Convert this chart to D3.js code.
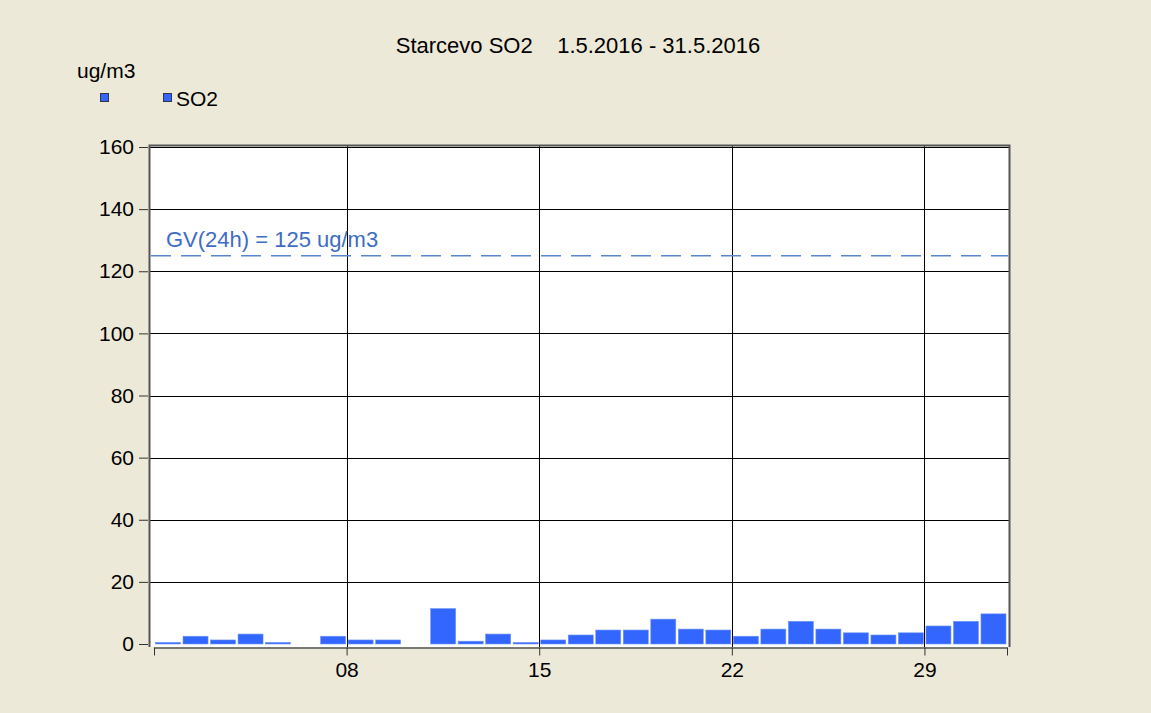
<!DOCTYPE html>
<html>
<head>
<meta charset="utf-8">
<script src="https://cdn.jsdelivr.net/npm/d3@7"></script>
<style>
  body { margin: 0; background: #ECE9D8; }
  svg text { font-family: "Liberation Sans", Arial, sans-serif; }
</style>
</head>
<body>
<div id="chart"></div>
<script>
// daily SO2 means, May 2016 (null = no data)
var days = d3.range(1, 32);
var so2 = [0.5, 2.5, 1.3, 3.2, 0.5, null, 2.5, 1.3, 1.3, null,
           11.4, 0.9, 3.2, 0.5, 1.3, 2.9, 4.5, 4.5, 8.0, 4.8,
           4.5, 2.5, 4.8, 7.3, 4.8, 3.6, 2.9, 3.6, 5.8, 7.3, 9.7];
var yTicks = [0, 20, 40, 60, 80, 100, 120, 140, 160];
var xTickDays = [8, 15, 22, 29];
var xTickLabels = ["08", "15", "22", "29"];
var limitValue = 125;
var limitLabel = "GV(24h) = 125 ug/m3";
var title = "Starcevo SO2    1.5.2016 - 31.5.2016";

var W = 1151, H = 713;
var FS = 21;
var svg = d3.select("#chart").append("svg").attr("width", W).attr("height", H);

var x = d3.scaleLinear().domain([1, 32]).range([154, 1007]);
var y = d3.scaleLinear().domain([0, 160]).range([644, 147]);

// plot area
svg.append("rect").attr("x", 150).attr("y", 146).attr("width", 859).attr("height", 501)
  .attr("fill", "#fff");

// grid
svg.selectAll(".hgrid").data(yTicks.filter(function(d){ return d > 0; })).enter()
  .append("line").attr("class", "hgrid")
  .attr("x1", 150).attr("x2", 1009)
  .attr("y1", function(d){ return Math.round(y(d)) + 0.5; })
  .attr("y2", function(d){ return Math.round(y(d)) + 0.5; })
  .attr("stroke", "#000").attr("stroke-width", 1);
svg.selectAll(".vgrid").data(xTickDays).enter()
  .append("line").attr("class", "vgrid")
  .attr("x1", function(d){ return Math.round(x(d)) + 0.5; })
  .attr("x2", function(d){ return Math.round(x(d)) + 0.5; })
  .attr("y1", 146).attr("y2", 647)
  .attr("stroke", "#000").attr("stroke-width", 1);

// bars
svg.selectAll(".bar").data(days.filter(function(d, i){ return so2[i] != null; })).enter()
  .append("rect").attr("class", "bar")
  .attr("x", function(d){ return x(d) + 1.5; })
  .attr("width", 25)
  .attr("y", function(d){ return y(so2[d - 1]); })
  .attr("height", function(d){ return y(0) - y(so2[d - 1]); })
  .attr("fill", "#3366FF")
  .attr("stroke", "#6F93F5").attr("stroke-width", 0.6);

// limit line
svg.append("line")
  .attr("x1", 151).attr("x2", 1008)
  .attr("y1", y(limitValue)).attr("y2", y(limitValue))
  .attr("stroke", "#5A86CF").attr("stroke-width", 1.5)
  .attr("stroke-dasharray", "20,10");
svg.append("text").attr("x", 166).attr("y", y(limitValue) - 9)
  .attr("font-size", 22).attr("fill", "#3D6CC4").text(limitLabel);

// frame
svg.append("path").attr("d", "M149.5,647V145.5H1009.5V647")
  .attr("fill", "none").attr("stroke", "#555").attr("stroke-width", 2);

// y axis
var yAxis = d3.axisLeft(y).tickValues(yTicks).tickSize(9).tickPadding(5);
var gy = svg.append("g").attr("transform", "translate(148,0)").call(yAxis);
gy.select(".domain").remove();
gy.selectAll("text").attr("font-size", FS).attr("fill", "#000")
  .style("font-family", "Liberation Sans, Arial, sans-serif");
gy.selectAll("line").attr("stroke", "#333");

// x axis
var xAxis = d3.axisBottom(x).tickValues([1].concat(xTickDays, [32]))
  .tickFormat(function(d){ var i = xTickDays.indexOf(d); return i < 0 ? "" : xTickLabels[i]; })
  .tickSize(8).tickPadding(7).tickSizeOuter(0);
var gx = svg.append("g").attr("transform", "translate(0,647.5)").call(xAxis);
gx.select(".domain").attr("stroke", "#555").attr("stroke-width", 1.5);
gx.selectAll("line").attr("stroke", "#333");
gx.selectAll("text").attr("font-size", FS).attr("fill", "#000")
  .style("font-family", "Liberation Sans, Arial, sans-serif");

// title, unit, legend
svg.append("text").attr("x", 578).attr("y", 53).attr("text-anchor", "middle")
  .attr("font-size", 22).attr("fill", "#000").style("white-space", "pre").text(title);
svg.append("text").attr("x", 77).attr("y", 78).attr("font-size", FS).attr("fill", "#000").text("ug/m3");
svg.append("rect").attr("x", 100.5).attr("y", 93.5).attr("width", 8).attr("height", 8)
  .attr("fill", "#3366FF").attr("stroke", "#334").attr("stroke-width", 1);
svg.append("rect").attr("x", 163.5).attr("y", 93.5).attr("width", 8).attr("height", 8)
  .attr("fill", "#3366FF").attr("stroke", "#334").attr("stroke-width", 1);
svg.append("text").attr("x", 176).attr("y", 106).attr("font-size", FS).attr("fill", "#000").text("SO2");
</script>
</body>
</html>
